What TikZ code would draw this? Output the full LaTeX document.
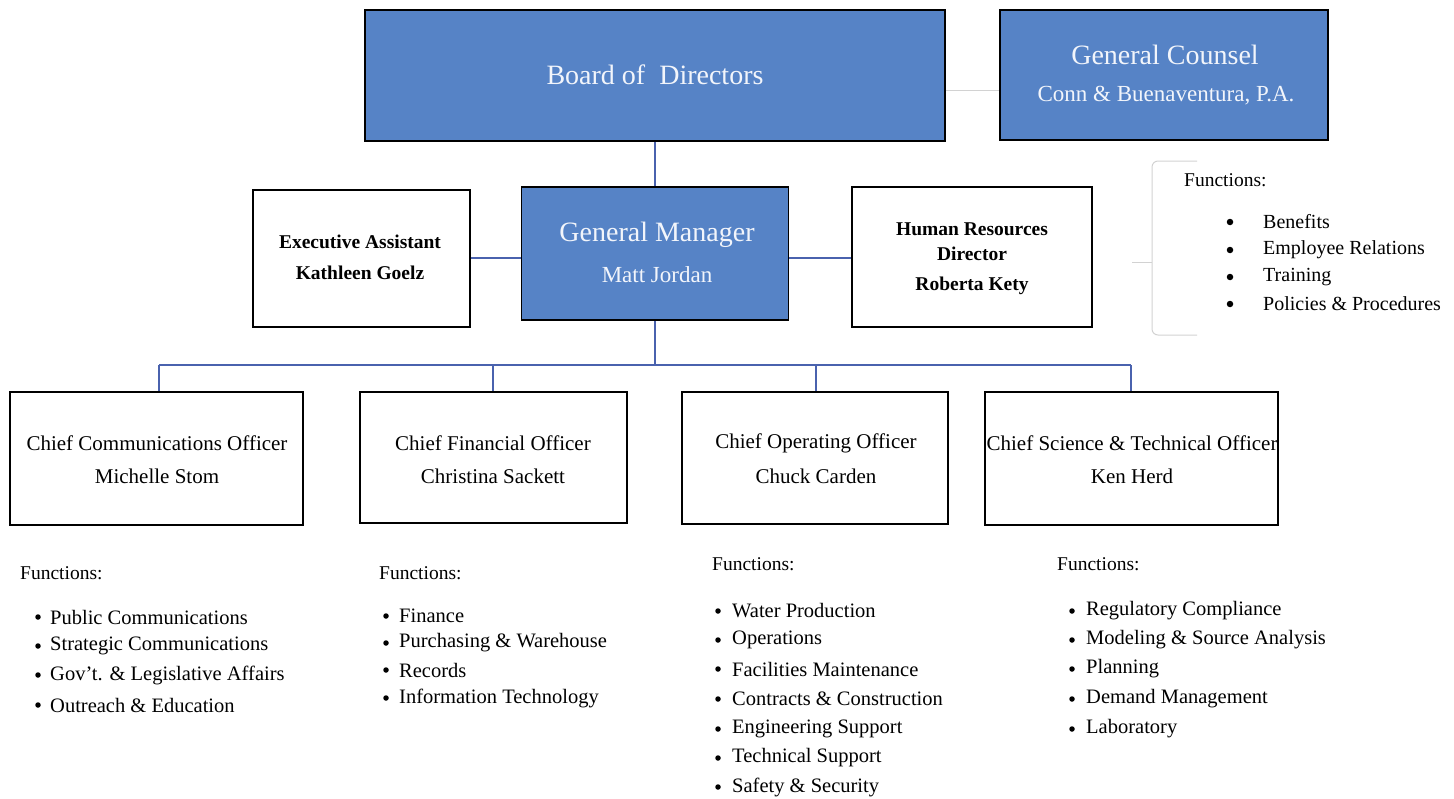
\documentclass[tikz,border=0pt]{standalone}
\usepackage{fontspec}
\setmainfont{Liberation Serif}
\definecolor{boxblue}{HTML}{5683C6}
\definecolor{linkblue}{HTML}{4A62AE}
\definecolor{paleline}{HTML}{D2D2D2}
\definecolor{lighttext}{HTML}{F2F5FB}
\begin{document}
\begin{tikzpicture}[x=1pt,y=-1pt,
  bluebox/.style={draw=black, line width=1.8pt, fill=boxblue, inner sep=0pt},
  whitebox/.style={draw=black, line width=1.6pt, fill=white, inner sep=0pt},
  link/.style={draw=linkblue, line width=1.2pt},
  pale/.style={draw=paleline, line width=1pt},
  bigw/.style={text=lighttext, font=\fontsize{28}{32}\selectfont, inner sep=0pt},
  midw/.style={text=lighttext, font=\fontsize{23}{27}\selectfont, inner sep=0pt},
  boldlab/.style={font=\bfseries\fontsize{19.5}{23}\selectfont, inner sep=0pt},
  offlab/.style={font=\fontsize{21}{25}\selectfont, inner sep=0pt},
  fnhead/.style={font=\fontsize{19.5}{22}\selectfont, anchor=west, inner sep=0pt},
  fnitem/.style={font=\fontsize{20.5}{23}\selectfont, anchor=west, inner sep=0pt},
  hritem/.style={font=\fontsize{20}{23}\selectfont, anchor=west, inner sep=0pt},
  dot/.style={circle, fill=black, inner sep=0pt, minimum size=6.5pt},
  sdot/.style={circle, fill=black, inner sep=0pt, minimum size=5.5pt}
]
\useasboundingbox (0,0) rectangle (1454,798);

% ---- boxes ----
\node[bluebox, minimum width=580pt, minimum height=131pt] (board) at (655,75.5) {};
\node[bluebox, minimum width=328pt, minimum height=130pt] (gc) at (1164,75) {};
\node[bluebox, minimum width=267pt, minimum height=133pt] (gm) at (655,253.5) {};
\node[whitebox, minimum width=217pt, minimum height=137pt] (ea) at (361.5,258.5) {};
\node[whitebox, minimum width=240pt, minimum height=140pt] (hr) at (972,257) {};
\node[whitebox, minimum width=293pt, minimum height=133pt] (cco) at (156.5,458.5) {};
\node[whitebox, minimum width=267pt, minimum height=131pt] (cfo) at (493.5,457.5) {};
\node[whitebox, minimum width=266pt, minimum height=132pt] (coo) at (815,458) {};
\node[whitebox, minimum width=293pt, minimum height=133pt] (cst) at (1131.5,458.5) {};

% ---- texts in boxes ----
\node[bigw] (boardt) at (655,75) {Board of\ \ Directors};
\node[bigw] (gct1) at (1165,55) {General Counsel};
\node[midw] (gct2) at (1166,96) {Conn \& Buenaventura, P.A.};
\node[bigw] (gmt1) at (657,235) {General Manager};
\node[midw] (gmt2) at (657,275) {Matt Jordan};
\node[boldlab] (eat1) at (360,242) {Executive Assistant};
\node[boldlab] (eat2) at (360,273) {Kathleen Goelz};
\node[boldlab] (hrt1) at (972,229) {Human Resources};
\node[boldlab] (hrt2) at (972,254) {Director};
\node[boldlab] (hrt3) at (972,286) {Roberta Kety};
\node[offlab] (ccot1) at (157,443) {Chief Communications Officer};
\node[offlab] (ccot2) at (157,476) {Michelle Stom};
\node[offlab] (cfot1) at (493,443) {Chief Financial Officer};
\node[offlab] (cfot2) at (493,476) {Christina Sackett};
\node[offlab] (coot1) at (816,443) {Chief Operating Officer};
\node[offlab] (coot2) at (816,476) {Chuck Carden};
\node[offlab] (cstt1) at (1132,443) {Chief Science \& Technical Officer};
\node[offlab] (cstt2) at (1132,476) {Ken Herd};

% ---- connectors ----
\coordinate (bus) at (655,365);
\coordinate (busl) at (159,365);
\coordinate (busr) at (1131,365);
\draw[pale] (board.east |- 0,90) -- (gc.west |- 0,90);
\draw[link] (board.south) -- (gm.north);
\draw[link] (ea.east |- 0,258) -- (gm.west |- 0,258);
\draw[link] (gm.east |- 0,258) -- (hr.west |- 0,258);
\draw[link] (gm.south) -- (bus);
\draw[link] (busl) -- (busr);
\draw[link] (busl) -- (cco.north -| busl);
\draw[link] (493,365) -- (cfo.north -| 493,0);
\draw[link] (816,365) -- (coo.north -| 816,0);
\draw[link] (busr) -- (cst.north -| busr);

% ---- HR functions bracket ----
\coordinate (brtop) at (1197,161);
\coordinate (brbot) at (1197,335);
\coordinate (brstub) at (1132,262);
\draw[pale, rounded corners=6pt] (brtop) -- (1152,161) -- (1152,335) -- (brbot);
\draw[pale] (brstub) -- (1152,262);
\node[fnhead] (hrf) at (1184,180) {Functions:};
\foreach \y/\t [count=\i] in {222/Benefits,250/Employee Relations,277/Training,304/Policies \& Procedures}{
  \node[dot] (hrd\i) at (1230,\y) {};
  \node[hritem] (hri\i) at (1263,\y) {\t};
}

% ---- function lists ----
\node[fnhead] (ccof) at (20,573) {Functions:};
\foreach \y/\t [count=\i] in {617/Public Communications,646/Strategic Communications,675/Gov't. \& Legislative Affairs,705/Outreach \& Education}{
  \node[sdot] (ccod\i) at (38,\y) {};
  \node[fnitem] (ccoi\i) at (50,\y) {\t};
}
\node[fnhead] (cfof) at (379,573) {Functions:};
\foreach \y/\t [count=\i] in {616/Finance,643/Purchasing \& Warehouse,670/Records,698/Information Technology}{
  \node[sdot] (cfod\i) at (386,\y) {};
  \node[fnitem] (cfoi\i) at (399,\y) {\t};
}
\node[fnhead] (coof) at (712,564) {Functions:};
\foreach \y/\t [count=\i] in {611/Water Production,640/Operations,669/Facilities Maintenance,699/Contracts \& Construction,729/Engineering Support,758/Technical Support,787/Safety \& Security}{
  \node[sdot] (cood\i) at (718,\y) {};
  \node[fnitem] (cooi\i) at (732,\y) {\t};
}
\node[fnhead] (cstf) at (1057,564) {Functions:};
\foreach \y/\t [count=\i] in {611/Regulatory Compliance,640/Modeling \& Source Analysis,669/Planning,699/Demand Management,729/Laboratory}{
  \node[sdot] (cstd\i) at (1072,\y) {};
  \node[fnitem] (csti\i) at (1086,\y) {\t};
}
\end{tikzpicture}
\end{document}
